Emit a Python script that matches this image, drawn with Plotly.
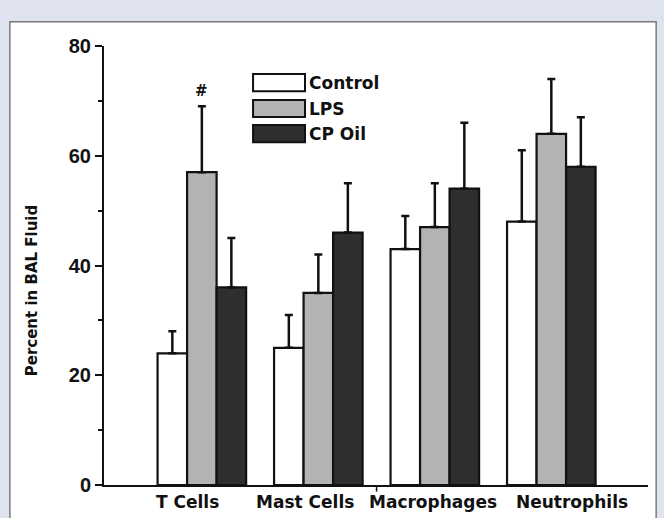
import plotly.graph_objects as go

categories = ["T Cells", "Mast Cells", "Macrophages", "Neutrophils"]
series_names = ["Control", "LPS", "CP Oil"]
control_vals = [24, 25, 43, 48]
control_err = [4, 6, 6, 13]
lps_vals = [57, 35, 47, 64]
lps_err = [12, 7, 8, 10]
cpoil_vals = [36, 46, 54, 58]
cpoil_err = [9, 9, 12, 9]
y_ticks = [0, 20, 40, 60, 80]
sig_marker = "#"

# label horizontal nudges (px), as in the original figure
label_shift = [-14, -13, -2, 21]

colors = ["#ffffff", "#b3b3b3", "#2e2e2e"]
values = [control_vals, lps_vals, cpoil_vals]
errors = [control_err, lps_err, cpoil_err]

FONT = "DejaVu Sans"
TICKFONT = "Liberation Sans"

fig = go.Figure()
for name, vals, errs, col in zip(series_names, values, errors, colors):
    fig.add_trace(go.Bar(
        name=name, x=categories, y=vals,
        marker=dict(color=col, line=dict(color="#111111", width=2.2)),
        error_y=dict(type="data", array=errs, arrayminus=[0] * len(errs),
                     symmetric=False, color="#111111", thickness=2.5, width=4),
        showlegend=False,
    ))

shapes = [
    # white panel
    dict(type="rect", xref="paper", yref="paper", x0=-0.173, x1=1.015,
         y0=-0.12, y1=1.055, fillcolor="white",
         line=dict(color="#7a7a7a", width=1.5), layer="below"),
    # stray tick mark on the category axis
    dict(type="line", xref="x", yref="paper", x0=1.5, x1=1.5, y0=0, y1=-0.015,
         line=dict(color="#111111", width=1.5)),
]
annotations = []
# custom legend
legend_rows = [(0.936, 0.897), (0.877, 0.838), (0.820, 0.781)]
for name, col, (ya, yb) in zip(series_names, colors, legend_rows):
    shapes.append(dict(type="rect", xref="paper", yref="paper",
                       x0=0.274, x1=0.3695, y0=yb, y1=ya,
                       fillcolor=col, line=dict(color="#111111", width=2)))
    annotations.append(dict(xref="paper", yref="paper", x=0.374, y=(ya + yb) / 2,
                            text=name, showarrow=False, xanchor="left", yanchor="middle",
                            font=dict(family=FONT, size=17, color="#111111", weight="bold")))

# category labels
for cat, sh in zip(categories, label_shift):
    annotations.append(dict(xref="x", yref="paper", x=cat, y=0, yanchor="top",
                            yshift=-5, xshift=sh, text=cat, showarrow=False,
                            font=dict(family=FONT, size=17, color="#111111", weight="bold")))

# significance marker above LPS T Cells
annotations.append(dict(xref="x", yref="y", x=categories[0],
                        y=lps_vals[0] + lps_err[0], text=sig_marker, showarrow=False,
                        yanchor="bottom", yshift=4,
                        font=dict(family=FONT, size=15, color="#111111", weight="bold")))

# y axis title
annotations.append(dict(xref="paper", yref="paper", x=-0.132, y=0.444,
                        text="Percent in BAL Fluid", textangle=-90, showarrow=False,
                        xanchor="center", yanchor="middle",
                        font=dict(family=FONT, size=15, color="#111111", weight="bold")))

fig.update_layout(
    width=664, height=518,
    margin=dict(l=104, r=16, t=46, b=33),
    paper_bgcolor="#dfe2ef",
    plot_bgcolor="white",
    barmode="group",
    bargap=0.24,
    bargroupgap=0,
    shapes=shapes,
    annotations=annotations,
    xaxis=dict(
        range=[-0.84, 3.83],
        showline=True, linecolor="#111111", linewidth=2,
        ticks="", showgrid=False, zeroline=False, showticklabels=False,
    ),
    yaxis=dict(
        range=[0, 80], tickvals=y_ticks,
        showline=True, linecolor="#111111", linewidth=2,
        ticks="outside", ticklen=7, tickwidth=2, tickcolor="#111111",
        minor=dict(ticks="outside", dtick=10, ticklen=4, tickwidth=2, tickcolor="#111111"),
        showgrid=False, zeroline=False,
        tickfont=dict(family=TICKFONT, size=20, color="#111111", weight="bold"),
    ),
)

fig.write_html("out.html", config={"displayModeBar": False},
               post_script="document.body.style.margin='0';document.body.style.overflow='hidden';")
